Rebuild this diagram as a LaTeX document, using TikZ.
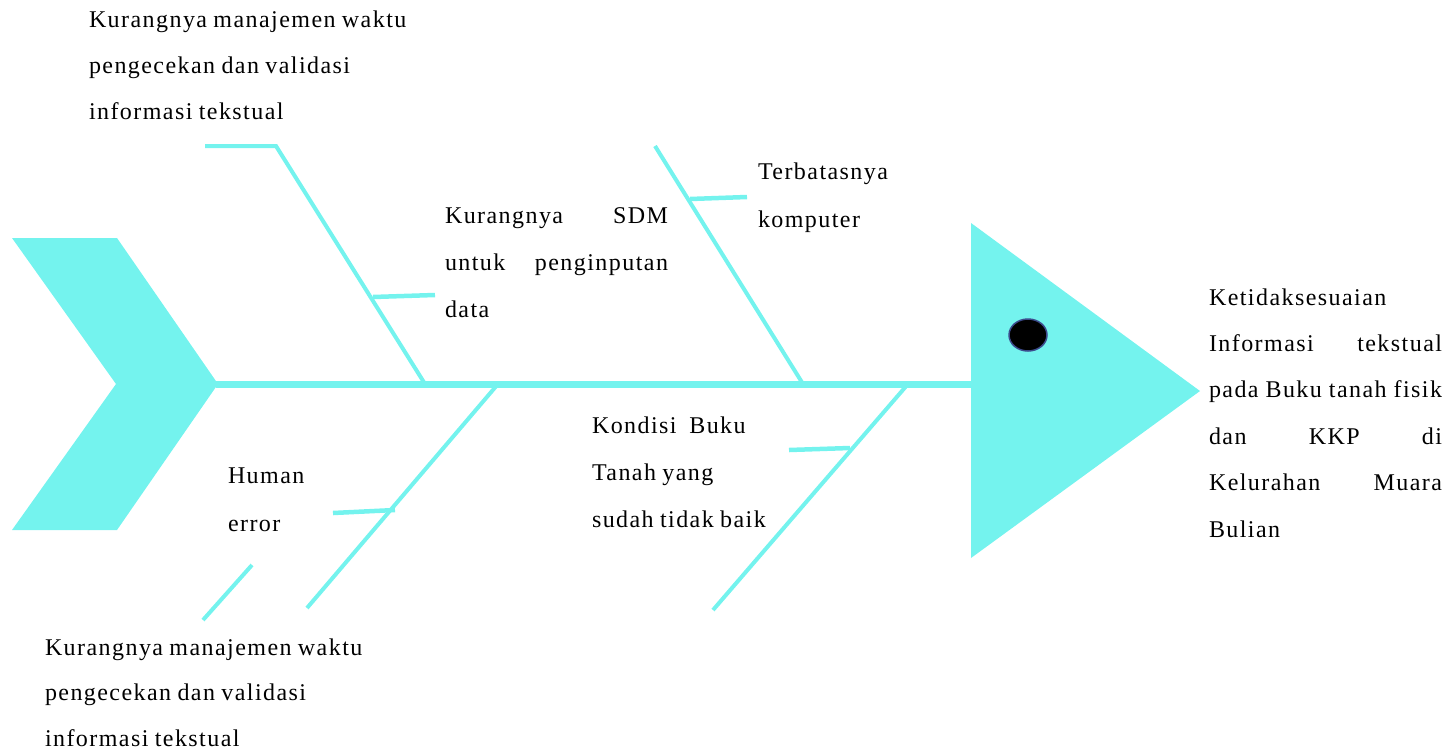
\documentclass[tikz,border=0pt]{standalone}
\usepackage{fontspec}
\setmainfont{Liberation Serif}
\newfontfamily\lsfont[LetterSpace=6,WordSpace=0.85]{Liberation Serif}
\definecolor{fish}{RGB}{116,243,238}
\definecolor{eyeblue}{RGB}{60,75,140}
\newcommand\mlines[1]{\vtop{\halign{##\hfil\cr#1\crcr}}}
\newcommand\jline[2]{\makebox[#1][s]{#2}}
\tikzset{
  bone/.style={draw=fish, line width=4pt},
  subbone/.style={draw=fish, line width=4.5pt},
  spine/.style={draw=fish, line width=7pt},
  lbl/.style={anchor=base west, inner sep=0pt, outer sep=0pt, font=\fontsize{24}{#1}\selectfont\lsfont},
  lbl/.default=46pt
}
\begin{document}
\begin{tikzpicture}[x=1pt,y=-1pt]
\useasboundingbox (0,0) rectangle (1447,750);
% tail
\fill[fish] (12,238) -- (117,238) -- (218,384) -- (117,530) -- (12,530) -- (116,384) -- cycle;
% head
\fill[fish] (971,223) -- (1200,391) -- (971,558) -- cycle;
\draw[fill=black, draw=eyeblue, line width=1.5pt] (1028,335) ellipse [x radius=19, y radius=16];
% spine
\coordinate (tailtip) at (216,384);
\coordinate (headleft) at (973,384);
\draw[spine] (tailtip) -- (headleft);
% bone anchors on spine
\coordinate (s1) at (425,384);
\coordinate (s2) at (803,384);
\coordinate (s3) at (498,384);
\coordinate (s4) at (908,384);
% bone 1 (upper left)
\coordinate (b1a) at (205,146);
\coordinate (b1b) at (276,146);
\draw[bone] (b1a) -- (b1b) -- (s1);
\coordinate (c1a) at (373,297);
\coordinate (c1b) at (435,295);
\draw[subbone] (c1a) -- (c1b);
% bone 2 (upper right)
\coordinate (b2a) at (655,146);
\draw[bone] (b2a) -- (s2);
\coordinate (c2a) at (690,199);
\coordinate (c2b) at (747,197);
\draw[subbone] (c2a) -- (c2b);
% bone 3 (lower left)
\coordinate (b3a) at (307,608);
\draw[bone] (s3) -- (b3a);
\coordinate (c3a) at (333,513);
\coordinate (c3b) at (395,510);
\draw[subbone] (c3a) -- (c3b);
\coordinate (d1a) at (252,565);
\coordinate (d1b) at (203,620);
\draw[bone] (d1a) -- (d1b);
% bone 4 (lower right)
\coordinate (b4a) at (713,610);
\draw[bone] (s4) -- (b4a);
\coordinate (c4a) at (789,450);
\coordinate (c4b) at (850,448);
\draw[subbone] (c4a) -- (c4b);
% labels
\node[lbl=46pt] (t1) at (89,27) {\mlines{Kurangnya manajemen waktu\cr pengecekan dan validasi\cr informasi tekstual}};
\node[lbl=45.5pt] (t2) at (45,655) {\mlines{Kurangnya manajemen waktu\cr pengecekan dan validasi\cr informasi tekstual}};
\node[lbl=47pt] (t3) at (445,223) {\mlines{\jline{223pt}{Kurangnya\hfill SDM}\cr\jline{223pt}{untuk\hfill penginputan}\cr data}};
\node[lbl=48pt] (t4) at (758,179) {\mlines{Terbatasnya\cr komputer}};
\node[lbl=48pt] (t5) at (228,483) {\mlines{Human\cr error}};
\node[lbl=47pt] (t6) at (592,433) {\mlines{Kondisi~ Buku\cr Tanah yang\cr sudah tidak baik}};
\node[lbl=46.4pt] (t7) at (1209,305) {\mlines{Ketidaksesuaian\cr\jline{233pt}{Informasi\hfill tekstual}\cr\jline{233pt}{pada Buku tanah fisik}\cr\jline{233pt}{dan\hfill KKP\hfill di}\cr\jline{233pt}{Kelurahan\hfill Muara}\cr Bulian}};
\end{tikzpicture}
\end{document}
